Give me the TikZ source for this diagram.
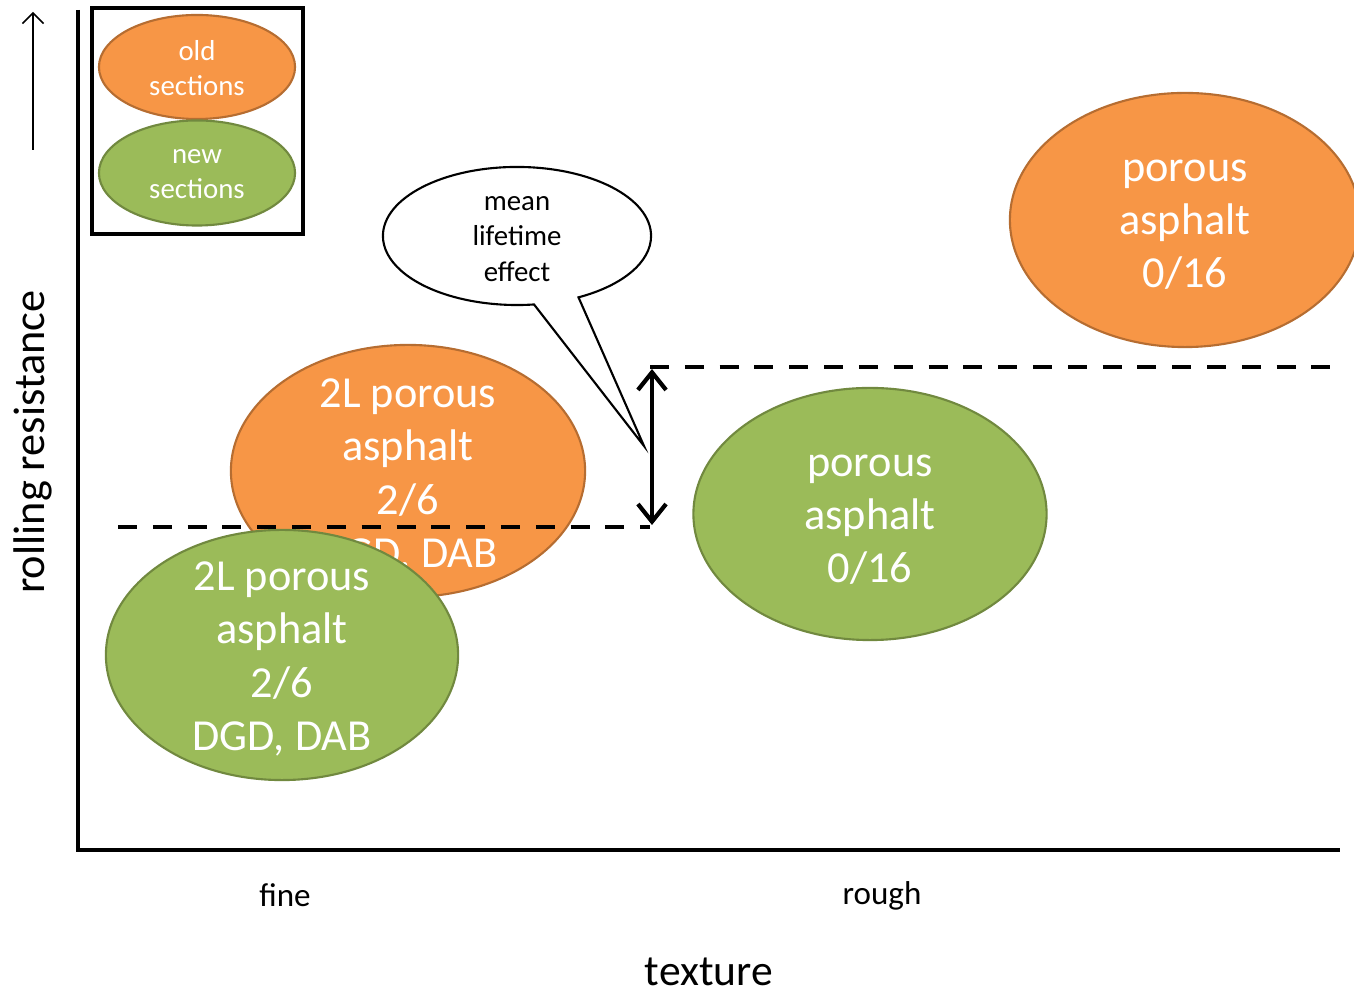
\documentclass[tikz,border=0pt]{standalone}
\usepackage{fontspec}
\setmainfont{Carlito}
\usepackage{tikz}
\usetikzlibrary{arrows.meta, shapes, shapes.callouts}
\definecolor{oldfill}{HTML}{F79646}
\definecolor{olddraw}{HTML}{B66D31}
\definecolor{newfill}{HTML}{9BBB59}
\definecolor{newdraw}{HTML}{71893F}
\tikzset{
  bigtxt/.style={text=white, align=center, inner sep=0, font=\fontsize{12.6}{15.1}\selectfont},
  smalltxt/.style={align=center, inner sep=0, font=\fontsize{8.2}{10.1}\selectfont},
  oldsec/.style={ellipse, fill=oldfill, draw=olddraw, line width=0.6pt, inner sep=0},
  newsec/.style={ellipse, fill=newfill, draw=newdraw, line width=0.6pt, inner sep=0}
}

\begin{document}
\begin{tikzpicture}[x=0.01cm, y=-0.01cm]
\clip (0,0) rectangle (1354,992);
\fill[white] (0,0) rectangle (1354,992);

% axes
\coordinate (O) at (78,850);
\coordinate (ytop) at (78,10);
\coordinate (xend) at (1340,850);
\draw[line width=0.9pt] (ytop) -- (O) -- (xend);
\coordinate (up1) at (33,150);
\coordinate (up2) at (33,12);
\draw[-{Straight Barb[length=3pt,width=6pt]}, line width=0.45pt] (up1) -- (up2);

\node[rotate=90, font=\fontsize{12.6}{15}\selectfont] (rr) at (33,442) {rolling resistance};
\node[font=\fontsize{9.4}{11}\selectfont] (fine) at (285,895) {fine};
\node[font=\fontsize{9.4}{11}\selectfont] (rough) at (882,896) {rough};
\node[font=\fontsize{12.4}{15}\selectfont] (tex) at (709,972) {texture};

% legend
\node[draw, line width=0.9pt, minimum width=2.11cm, minimum height=2.26cm, inner sep=0] (key) at (197.5,121) {};
\node[oldsec, minimum width=1.96cm, minimum height=1.04cm] (keyold) at (197,67) {};
\node[smalltxt, text=white] at (197,68) {old\\sections};
\node[newsec, minimum width=1.96cm, minimum height=1.05cm] (keynew) at (197,173) {};
\node[smalltxt, text=white] at (197,174) {new\\sections};

% sections
\node[oldsec, minimum width=3.50cm, minimum height=2.54cm] (pa16old) at (1185,220) {};
\node[bigtxt] at (1185,225) {porous\\asphalt\\0/16};
\node[oldsec, minimum width=3.54cm, minimum height=2.52cm] (twoLold) at (408,471) {};
\node[bigtxt] at (408,476) {2L porous\\asphalt\\2/6\\DGD, DAB};
\node[newsec, minimum width=3.52cm, minimum height=2.50cm] (twoLnew) at (282,655) {};
\node[bigtxt] at (282,659) {2L porous\\asphalt\\2/6\\DGD, DAB};
\node[newsec, minimum width=3.53cm, minimum height=2.52cm] (pa16new) at (870,514) {};
\node[bigtxt] at (870,520) {porous\\asphalt\\0/16};

% levels
\coordinate (lowA) at (118,527);
\coordinate (lowB) at (650,527);
\coordinate (highA) at (650,367);
\coordinate (highB) at (1340,367);
\begin{scope}[line width=1pt, dash pattern=on 5.4pt off 4.5pt]
  \draw (lowA) -- (lowB);
  \draw (highA) -- (highB);
\end{scope}
\coordinate (gapTop) at (652,369);
\coordinate (gapBot) at (652,525);
\draw[{Straight Barb[length=5pt,width=8pt]}-{Straight Barb[length=5pt,width=8pt]}, line width=1.2pt] (gapTop) -- (gapBot);

% callout
\coordinate (tip) at (644,446);
\node[ellipse callout, draw, fill=white, line width=0.6pt, inner sep=0,
      minimum width=2.68cm, minimum height=1.38cm,
      callout absolute pointer={(tip)}, callout pointer arc=20] (life) at (517,236) {};
\node[smalltxt] at (517,239) {mean\\lifetime\\effect};

\end{tikzpicture}
\end{document}
